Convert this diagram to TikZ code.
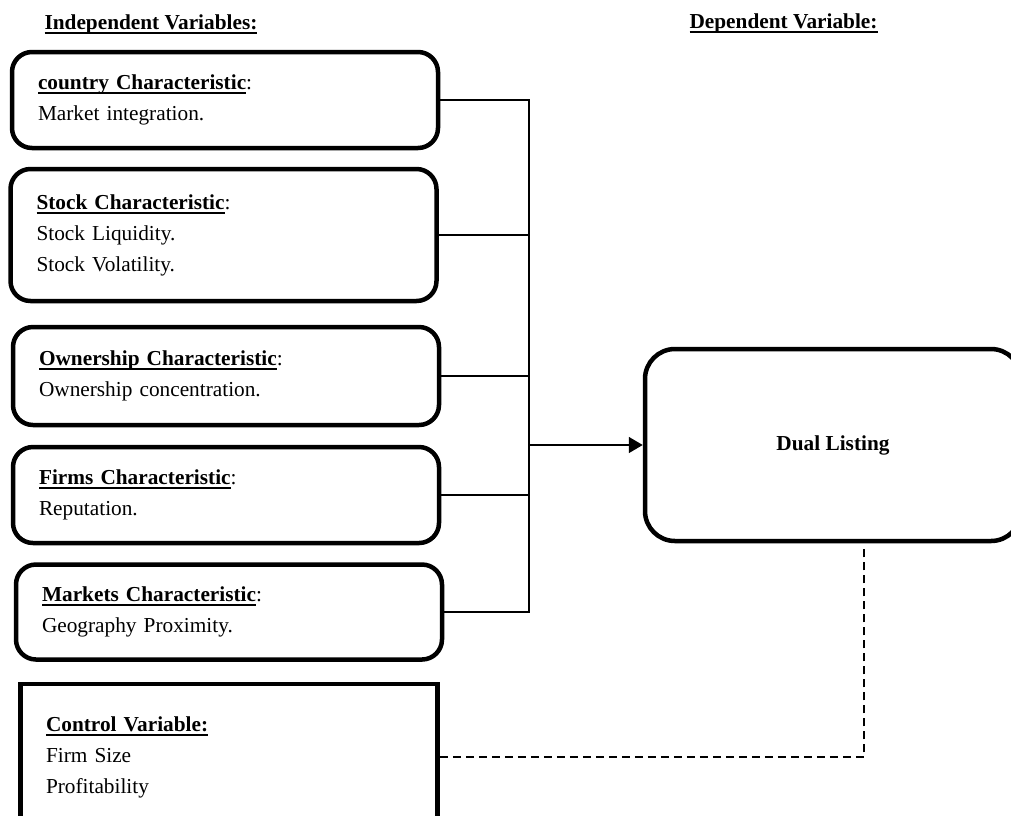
\documentclass[tikz,border=0pt]{standalone}
\usepackage{fontspec}
\setmainfont{Liberation Serif}
\usepackage{tikz}
\usetikzlibrary{arrows.meta}
\newcommand{\ulin}[1]{\leavevmode\setbox0\hbox{#1}\rlap{\rule[-4.5pt]{\wd0}{1.8pt}}\box0}

\begin{document}
\begin{tikzpicture}[x=1pt,y=-1pt,
  every node/.style={font={\fontsize{21.3pt}{31pt}\selectfont}},
  varbox/.style={draw,line width=4.5pt,rounded corners=20pt,inner xsep=26pt,inner ysep=0pt,align=left,text width=374pt},
  link/.style={line width=1.6pt},
  ctrllink/.style={line width=1.6pt,dash pattern=on 8pt off 5pt}]
\useasboundingbox (0,0) rectangle (1011,815);
\clip (0,0) rectangle (1011,815);
\node[anchor=base west] (indep) at (41,29) {\ulin{\textbf{Independent Variables:}}};
\node[anchor=base west] (dep) at (686,28) {\ulin{\textbf{Dependent Variable:}}};
\node[varbox,minimum height=96pt] (c1) at (225,100) {\ulin{\textbf{country Characteristic}}:\\Market integration.};
\node[varbox,minimum height=132pt] (c2) at (223.5,235) {\ulin{\textbf{Stock Characteristic}}:\\Stock Liquidity.\\Stock Volatility.};
\node[varbox,minimum height=98pt] (c3) at (226,376) {\ulin{\textbf{Ownership Characteristic}}:\\Ownership concentration.};
\node[varbox,minimum height=96pt] (c4) at (226,495) {\ulin{\textbf{Firms Characteristic}}:\\Reputation.};
\node[varbox,minimum height=95pt] (c5) at (229,612) {\ulin{\textbf{Markets Characteristic}}:\\Geography Proximity.};
\node[varbox,rounded corners=0pt,text width=366pt,inner xsep=25.5pt,minimum height=146pt] (ctrl) at (229,757) {\ulin{\textbf{Control Variable:}}\\Firm Size\\Profitability};
\node[draw,line width=4.5pt,rounded corners=30pt,minimum width=376pt,minimum height=192pt] (dual) at (833,445) {\textbf{Dual Listing}};
\coordinate (bus) at (529,0);
\draw[link] (c1.east) -- (c1.east -| bus) -- (c5.east -| bus) -- (c5.east);
\foreach \b in {c2,c3,c4}
  \draw[link] (\b.east) -- (\b.east -| bus);
\draw[link,-{Triangle[length=14pt,width=16pt]}] (bus |- dual.west) -- (dual.west);
\draw[ctrllink] (ctrl.east) -| ([xshift=31pt,yshift=-6pt]dual.south);
\end{tikzpicture}
\end{document}
